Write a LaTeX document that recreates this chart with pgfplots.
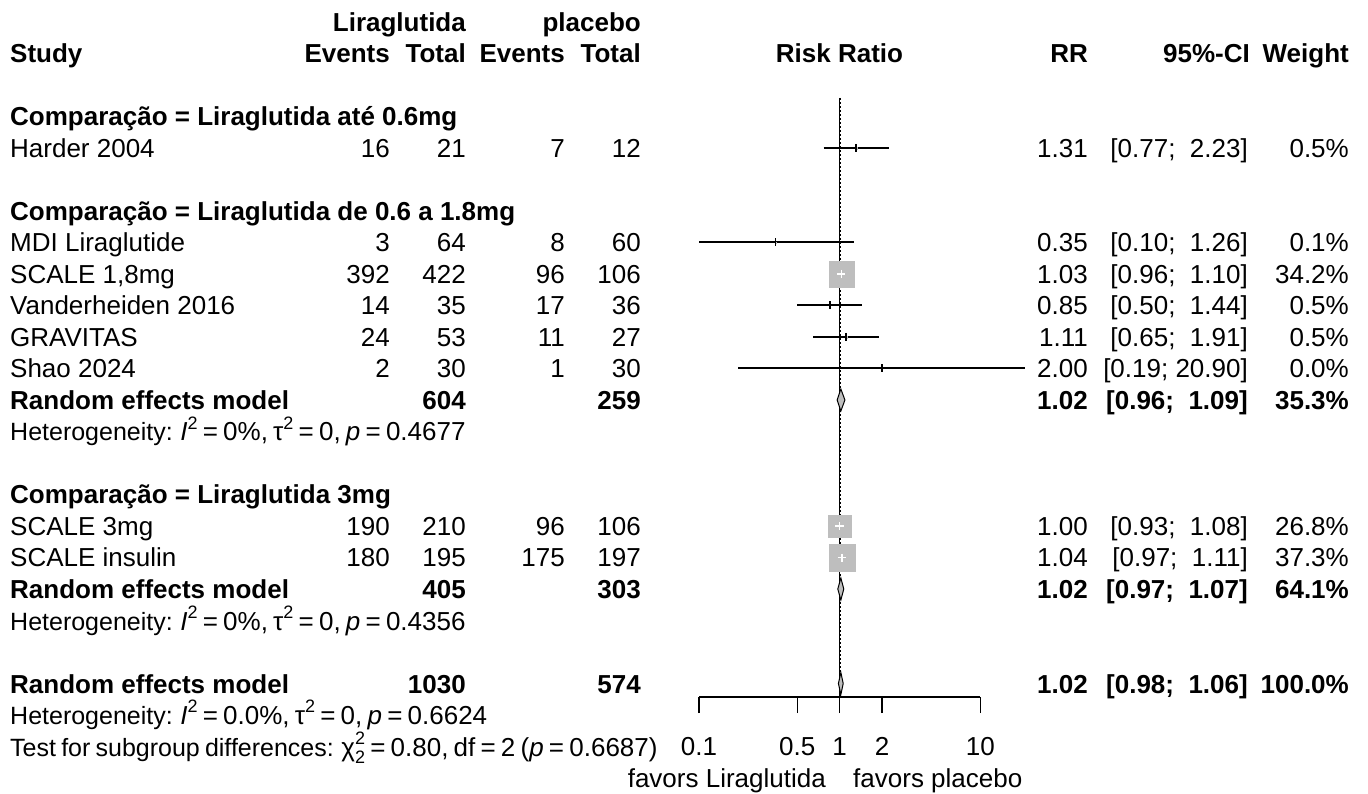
\documentclass[border=0pt]{standalone}
\usepackage{fontspec}
\setmainfont{Liberation Sans}
\usepackage{pgfplots}
\pgfplotsset{compat=1.18}
\definecolor{sqgray}{RGB}{190,190,190}
\newcommand\fs{\fontsize{26}{31}\selectfont}
\newcommand\hfs{\fontsize{25}{30}\selectfont}
\newcommand\sfs{\fontsize{18}{18}\selectfont}
\newcommand\narrow{\spaceskip=0.2em\relax}
\newcommand\sq[1]{\raisebox{0.45em}{\sfs #1}}
\newcommand\Isq{\textit{I}\sq{2}}
\newcommand\tsq{τ\sq{2}}
\newcommand\chisq{χ\makebox[0pt][l]{\raisebox{0.45em}{\sfs 2}}\raisebox{-0.3em}{\sfs 2}}
\newcommand\R[3]{\node[anchor=base east, inner sep=0pt] at (axis cs:#1,#2) {#3};}
\newcommand\Lf[3]{\node[anchor=base west, inner sep=0pt] at (axis cs:#1,#2) {#3};}
\newcommand\C[3]{\node[anchor=base, inner sep=0pt] at (axis cs:#1,#2) {#3};}
% study row: y, name, e1, n1, e2, n2, rr, ci, w
\newcommand\Row[9]{\Lf{10}{#1}{#2}\R{390}{#1}{#3}\R{466}{#1}{#4}\R{565}{#1}{#5}\R{641}{#1}{#6}\R{1088}{#1}{#7}\R{1248}{#1}{#8}\R{1349}{#1}{#9}}
\begin{document}
\begin{tikzpicture}[font=\fs]
\path[use as bounding box] (0,0) rectangle (1368pt,793pt);
\begin{axis}[at={(0pt,0pt)}, anchor=south west, scale only axis,
  width=1368pt, height=793pt, xmin=0, xmax=1368, ymin=0, ymax=793,
  hide axis, clip=false]
% header
\R{466}{761.5}{\bfseries Liraglutida}
\R{641}{761.5}{\bfseries placebo}
\Lf{10}{730}{\bfseries Study}
\R{390}{730}{\bfseries Events}
\R{466}{730}{\bfseries Total}
\R{565}{730}{\bfseries Events}
\R{641}{730}{\bfseries Total}
\C{839.5}{730}{\bfseries Risk Ratio}
\R{1088}{730}{\bfseries RR}
\R{1250}{730}{\bfseries 95\%-CI}
\R{1349}{730}{\bfseries Weight}
% group 1
\Lf{10}{667}{\bfseries Comparação = Liraglutida até 0.6mg}
\Row{635.5}{Harder 2004}{16}{21}{7}{12}{1.31}{[0.77;\ \ 2.23]}{0.5\%}
% group 2
\Lf{10}{572.5}{\bfseries Comparação = Liraglutida de 0.6 a 1.8mg}
\Row{541}{MDI Liraglutide}{3}{64}{8}{60}{0.35}{[0.10;\ \ 1.26]}{0.1\%}
\Row{509.5}{SCALE 1,8mg}{392}{422}{96}{106}{1.03}{[0.96;\ \ 1.10]}{34.2\%}
\Row{478}{Vanderheiden 2016}{14}{35}{17}{36}{0.85}{[0.50;\ \ 1.44]}{0.5\%}
\Row{446.5}{GRAVITAS}{24}{53}{11}{27}{1.11}{[0.65;\ \ 1.91]}{0.5\%}
\Row{415}{Shao 2024}{2}{30}{1}{30}{2.00}{[0.19;\ 20.90]}{0.0\%}
\Row{383.5}{\bfseries Random effects model}{}{\bfseries 604}{}{\bfseries 259}{\bfseries 1.02}{\bfseries [0.96;\ \ 1.09]}{\bfseries 35.3\%}
\Lf{10}{352}{\narrow{\hfs Heterogeneity:} \Isq{} = 0\%, \tsq{} = 0, \textit{p} = 0.4677}
% group 3
\Lf{10}{289}{\bfseries Comparação = Liraglutida 3mg}
\Row{257.5}{SCALE 3mg}{190}{210}{96}{106}{1.00}{[0.93;\ \ 1.08]}{26.8\%}
\Row{226}{SCALE insulin}{180}{195}{175}{197}{1.04}{[0.97;\ \ 1.11]}{37.3\%}
\Row{194.5}{\bfseries Random effects model}{}{\bfseries 405}{}{\bfseries 303}{\bfseries 1.02}{\bfseries [0.97;\ \ 1.07]}{\bfseries 64.1\%}
\Lf{10}{163}{\narrow{\hfs Heterogeneity:} \Isq{} = 0\%, \tsq{} = 0, \textit{p} = 0.4356}
% overall
\Row{100}{\bfseries Random effects model}{}{\bfseries 1030}{}{\bfseries 574}{\bfseries 1.02}{\bfseries [0.98;\ \ 1.06]}{\bfseries 100.0\%}
\Lf{10}{68.5}{\narrow{\hfs Heterogeneity:} \Isq{} = 0.0\%, \tsq{} = 0, \textit{p} = 0.6624}
\Lf{10}{37}{\narrow{\hfs Test for subgroup differences:} \chisq{} = 0.80, df = 2 (\textit{p} = 0.6687)}
\R{826}{5.5}{favors Liraglutida}
\Lf{853}{5.5}{favors placebo}
\end{axis}
\begin{axis}[at={(699pt,793pt)}, anchor=north west, scale only axis,
  width=281.3pt, height=697pt, xmode=log, xmin=0.1, xmax=10,
  ymin=96, ymax=793, clip=false, clip marker paths=true,
  axis x line*=bottom, hide y axis,
  axis line style={-, line width=1.4pt},
  xtick={0.1,0.5,1,2,10}, xticklabels={0.1,0.5,1,2,10},
  xminorticks=false, tick align=outside, major tick length=16pt,
  every tick/.style={black, line width=1.4pt},
  xticklabel style={font=\fs, anchor=base, yshift=-42pt}]
% reference line and overall effect line
\addplot[black, line width=1.5pt] coordinates {(1,695) (1,96)};
\addplot[black, line width=1.2pt, dash pattern=on 2pt off 2pt] coordinates {(1.02,695) (1.02,96)};
% confidence intervals
\addplot[black, line width=2pt] coordinates {(0.77,645) (2.23,645)};
\addplot[black, line width=2pt] coordinates {(0.10,550.5) (1.26,550.5)};
\addplot[black, line width=2pt] coordinates {(0.96,519) (1.10,519)};
\addplot[black, line width=2pt] coordinates {(0.50,487.5) (1.44,487.5)};
\addplot[black, line width=2pt] coordinates {(0.65,456) (1.91,456)};
\addplot[black, line width=2pt] coordinates {(0.19,424.5) (20.90,424.5)};
\addplot[black, line width=2pt] coordinates {(0.93,267) (1.08,267)};
\addplot[black, line width=2pt] coordinates {(0.97,235.5) (1.11,235.5)};
% weight squares (area proportional to weight)
\addplot[sqgray, only marks, mark=square*, mark size=0.8pt, mark options={fill=sqgray, draw=sqgray}] coordinates {(1.31,645) (0.85,487.5) (1.11,456)};
\addplot[sqgray, only marks, mark=square*, mark size=0.4pt, mark options={fill=sqgray, draw=sqgray}] coordinates {(0.35,550.5)};
\addplot[sqgray, only marks, mark=square*, mark size=12.75pt, mark options={fill=sqgray, draw=sqgray}] coordinates {(1.03,519)};
\addplot[sqgray, only marks, mark=square*, mark size=11.3pt, mark options={fill=sqgray, draw=sqgray}] coordinates {(1.00,267)};
\addplot[sqgray, only marks, mark=square*, mark size=13.3pt, mark options={fill=sqgray, draw=sqgray}] coordinates {(1.04,235.5)};
% point estimates
\addplot[black, only marks, mark=|, mark size=4pt, mark options={black, line width=1.6pt}] coordinates {(1.31,645) (0.35,550.5) (0.85,487.5) (1.11,456) (2.00,424.5)};
% white CI inside large squares
\addplot[white, line width=1.5pt] coordinates {(0.96,519) (1.10,519)};
\addplot[white, line width=1.5pt] coordinates {(0.93,267) (1.08,267)};
\addplot[white, line width=1.5pt] coordinates {(0.97,235.5) (1.11,235.5)};
\addplot[white, only marks, mark=|, mark size=4pt, mark options={white, line width=1.5pt}] coordinates {(1.03,519) (1.00,267) (1.04,235.5)};
% pooled diamonds
\addplot[fill=sqgray, draw=black, line width=1pt] coordinates {(0.96,393) (1.02,404) (1.09,393) (1.02,382) (0.96,393)};
\addplot[fill=sqgray, draw=black, line width=1pt] coordinates {(0.97,204) (1.02,215) (1.07,204) (1.02,193) (0.97,204)};
\addplot[fill=sqgray, draw=black, line width=1pt] coordinates {(0.98,109.5) (1.02,120.5) (1.06,109.5) (1.02,98.5) (0.98,109.5)};
\end{axis}
\end{tikzpicture}
\end{document}
